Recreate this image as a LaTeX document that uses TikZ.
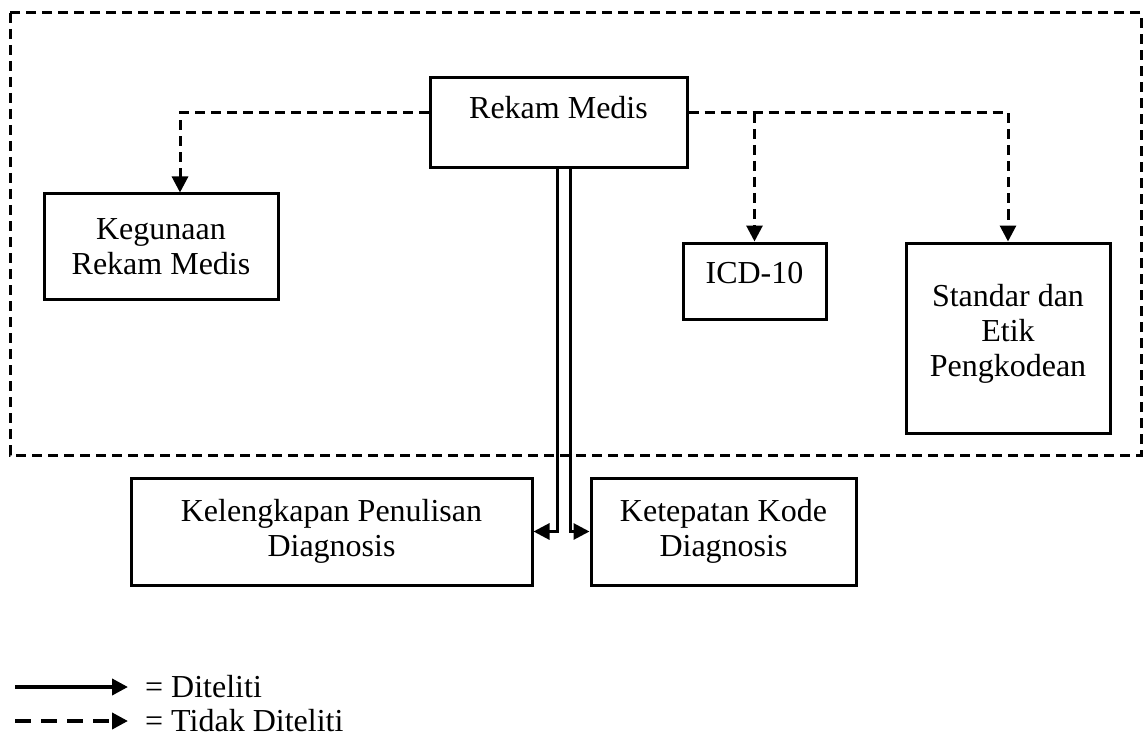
\documentclass[tikz,border=0pt]{standalone}
\usepackage{fontspec}
\setmainfont{Liberation Serif}
\usepackage{tikz}
\usetikzlibrary{positioning}
\usetikzlibrary{arrows.meta}

\begin{document}
\begin{tikzpicture}[x=1pt,y=-1pt,
    font=\fontsize{32}{35}\selectfont,
    kotak/.style={draw,line width=3pt,align=center,inner sep=0pt},
    putus/.style={line width=3pt,dash pattern=on 10pt off 6pt,-{Triangle[length=16pt,width=16pt]}},
    tegas/.style={line width=3pt,-{Triangle[length=16pt,width=16pt]}}]
          \useasboundingbox (0,0) rectangle (1144,749);
          % batas yang diteliti
          \draw[line width=3pt,dash pattern=on 10pt off 6pt] (10,13) rectangle (1141,455);
          % kotak
          \node[kotak,minimum width=257pt,minimum height=90pt] (rekam) at (558.5,123){};
          \node (trekam) at (558.5,108){Rekam Medis};
          \node[kotak,minimum width=234pt,minimum height=105pt] (kegunaan) at (161,246.5){Kegunaan\\Rekam Medis};
          \node[kotak,minimum width=143pt,minimum height=76pt] (icd) at (754.5,281){};
          \node (ticd) at (754.5,273){ICD-10};
          \node[kotak,minimum width=204pt,minimum height=190pt] (standar) at (1008,338){};
          \node[align=center] (tstandar) at (1008,334){Standar dan\\Etik\\Pengkodean};
          \node[kotak,minimum width=401pt,minimum height=107pt] (kelengkapan) at (331.5,531.5){Kelengkapan Penulisan\\Diagnosis};
          \node[kotak,minimum width=265pt,minimum height=107pt] (ketepatan) at (723.5,531.5){Ketepatan Kode\\Diagnosis};
          % panah tidak diteliti
          \coordinate (cabang) at ([yshift=10pt]rekam.east -| icd.north);
          \draw[putus] ([yshift=10pt]rekam.west) -| ([xshift=19pt]kegunaan.north);
          \draw[putus] ([yshift=10pt]rekam.east) -| (standar.north);
          \draw[putus] (cabang) -- (icd.north);
          % panah diteliti
          \draw[tegas] ([xshift=-1.5pt]rekam.south) |- (kelengkapan.east);
          \draw[tegas] ([xshift=11.5pt]rekam.south) |- (ketepatan.west);
          % keterangan
          \coordinate (a1) at (15,687);
          \coordinate (a2) at (128,687);
          \coordinate (b1) at (15,721);
          \coordinate (b2) at (128,721);
          \draw[tegas,line width=3.8pt] (a1) -- (a2);
          \draw[putus,line width=3.8pt,dash pattern=on 16pt off 10pt] (b1) -- (b2);
          \node[right=17pt of a2,inner sep=0pt] (ket1){= Diteliti};
          \node[right=17pt of b2,inner sep=0pt] (ket2){= Tidak Diteliti};
        \end{tikzpicture}
\end{document}
